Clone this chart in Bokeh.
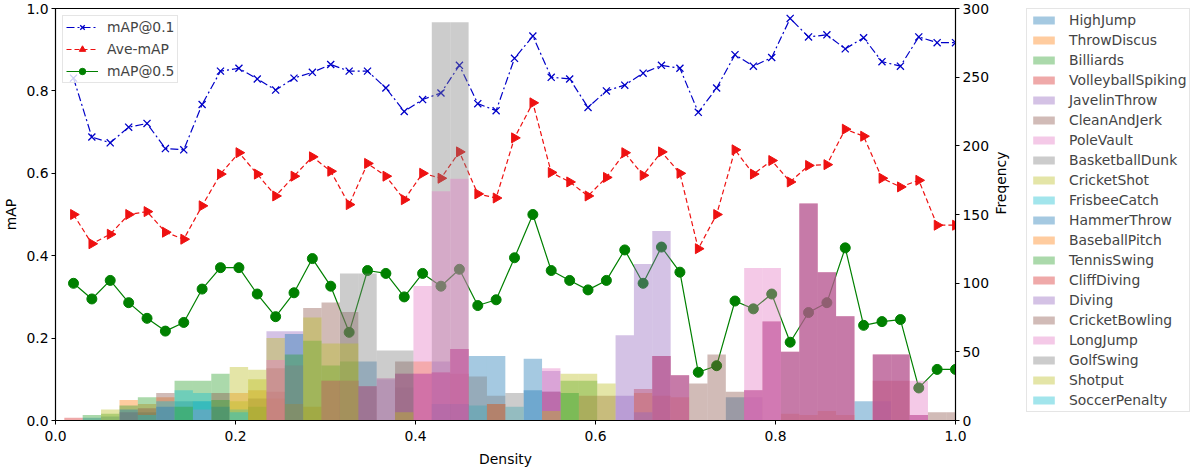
import numpy as np
from bokeh.plotting import figure
from bokeh.layouts import row
from bokeh.models import (Range1d, LinearAxis, Legend, LegendItem, FixedTicker,
                          PrintfTickFormatter, ColumnDataSource)
from bokeh.embed import file_html
from bokeh.resources import INLINE

# ---------------- data ----------------
density = [0.0200, 0.0404, 0.0608, 0.0813, 0.1017, 0.1221, 0.1425, 0.1629, 0.1833, 0.2038,
           0.2242, 0.2446, 0.2650, 0.2854, 0.3058, 0.3263, 0.3467, 0.3671, 0.3875, 0.4079,
           0.4283, 0.4488, 0.4692, 0.4896, 0.5100, 0.5304, 0.5508, 0.5713, 0.5917, 0.6121,
           0.6325, 0.6529, 0.6733, 0.6938, 0.7142, 0.7346, 0.7550, 0.7754, 0.7958, 0.8163,
           0.8367, 0.8571, 0.8775, 0.8979, 0.9183, 0.9388, 0.9592, 0.9796, 1.0000]

map_01 = [0.831, 0.688, 0.674, 0.712, 0.721, 0.660, 0.657, 0.767, 0.848, 0.855,
          0.829, 0.802, 0.831, 0.845, 0.864, 0.848, 0.848, 0.807, 0.750, 0.779,
          0.795, 0.862, 0.769, 0.752, 0.879, 0.933, 0.833, 0.829, 0.760, 0.800,
          0.814, 0.843, 0.862, 0.855, 0.748, 0.807, 0.888, 0.860, 0.881, 0.976,
          0.931, 0.936, 0.902, 0.929, 0.871, 0.860, 0.931, 0.917, 0.917]

ave_map = [0.500, 0.429, 0.452, 0.500, 0.507, 0.457, 0.440, 0.521, 0.598, 0.650,
           0.598, 0.545, 0.593, 0.640, 0.605, 0.524, 0.624, 0.593, 0.536, 0.600,
           0.588, 0.652, 0.550, 0.540, 0.686, 0.771, 0.602, 0.579, 0.545, 0.590,
           0.650, 0.595, 0.652, 0.600, 0.417, 0.500, 0.657, 0.598, 0.631, 0.579,
           0.619, 0.621, 0.707, 0.690, 0.588, 0.567, 0.583, 0.474, 0.474]

map_05 = [0.333, 0.295, 0.340, 0.286, 0.248, 0.217, 0.238, 0.319, 0.371, 0.371,
          0.307, 0.252, 0.310, 0.393, 0.326, 0.214, 0.364, 0.357, 0.300, 0.357,
          0.326, 0.367, 0.279, 0.293, 0.395, 0.500, 0.364, 0.340, 0.317, 0.340,
          0.414, 0.333, 0.421, 0.360, 0.117, 0.133, 0.290, 0.271, 0.307, 0.190,
          0.262, 0.286, 0.419, 0.231, 0.240, 0.245, 0.079, 0.124, 0.124]

classes = ["HighJump", "ThrowDiscus", "Billiards", "VolleyballSpiking", "JavelinThrow",
           "CleanAndJerk", "PoleVault", "BasketballDunk", "CricketShot", "FrisbeeCatch",
           "HammerThrow", "BaseballPitch", "TennisSwing", "CliffDiving", "Diving",
           "CricketBowling", "LongJump", "GolfSwing", "Shotput", "SoccerPenalty"]

# per-class frequency in each density bin (49 bins)
high_jump = [0, 2, 3, 0, 6, 0, 14, 14, 0, 0,
             0, 0, 0, 0, 0, 0, 43, 0, 0, 0,
             0, 0, 47, 47, 0, 45, 0, 0, 0, 0,
             0, 0, 0, 0, 0, 0, 17, 0, 0, 0,
             0, 0, 0, 14, 0, 0, 0, 0, 0]
throw_discus = [0, 0, 0, 15, 12, 17, 0, 0, 0, 20,
                22, 16, 0, 10, 0, 0, 0, 0, 0, 43,
                0, 0, 0, 0, 0, 0, 0, 0, 0, 0,
                0, 20, 18, 17, 0, 0, 0, 0, 0, 5,
                4, 7, 4, 0, 0, 0, 0, 0, 0]
billiards = [0, 4, 5, 11, 17, 0, 29, 29, 34, 0,
             10, 0, 0, 0, 0, 0, 0, 0, 0, 0,
             0, 0, 0, 0, 0, 0, 0, 29, 29, 0,
             0, 0, 0, 0, 0, 0, 0, 0, 0, 0,
             0, 0, 0, 0, 0, 0, 0, 0, 0]
volleyball_spiking = [2, 0, 0, 0, 0, 0, 0, 0, 0, 0,
                      0, 21, 0, 0, 0, 0, 0, 0, 0, 0,
                      0, 34, 0, 12, 0, 0, 0, 0, 0, 0,
                      0, 23, 0, 0, 0, 0, 0, 0, 0, 0,
                      0, 0, 0, 0, 29, 29, 0, 0, 0]
javelin_throw = [0, 0, 0, 0, 0, 0, 0, 0, 0, 0,
                 0, 65, 65, 0, 0, 0, 0, 30, 24, 0,
                 43, 0, 0, 0, 0, 0, 36, 0, 0, 0,
                 62, 114, 138, 0, 0, 0, 0, 17, 0, 0,
                 0, 0, 0, 0, 14, 0, 0, 0, 0]
clean_and_jerk = [0, 0, 0, 6, 9, 20, 0, 0, 20, 0,
                  16, 38, 0, 82, 86, 79, 0, 0, 43, 0,
                  0, 0, 0, 0, 0, 0, 0, 0, 18, 18,
                  0, 0, 0, 0, 0, 0, 0, 0, 0, 0,
                  0, 0, 0, 0, 0, 0, 0, 6, 6]
pole_vault = [0, 0, 0, 0, 0, 0, 0, 0, 0, 0,
              0, 0, 0, 0, 29, 29, 25, 0, 34, 34,
              35, 52, 0, 0, 0, 0, 21, 0, 0, 0,
              0, 0, 47, 33, 0, 0, 0, 22, 72, 50,
              158, 108, 76, 0, 48, 48, 4, 0, 0]
basketball_dunk = [0, 0, 0, 0, 0, 0, 0, 0, 0, 0,
                   0, 0, 0, 0, 0, 0, 0, 0, 0, 0,
                   290, 290, 0, 0, 0, 0, 0, 0, 0, 0,
                   0, 0, 0, 0, 0, 0, 0, 0, 0, 0,
                   0, 0, 0, 0, 0, 0, 0, 0, 0]
cricket_shot = [0, 0, 8, 0, 0, 0, 0, 0, 0, 39,
                37, 60, 0, 0, 0, 0, 0, 0, 0, 0,
                0, 0, 0, 0, 0, 0, 0, 34, 34, 27,
                0, 0, 0, 0, 0, 0, 0, 0, 0, 0,
                0, 0, 0, 0, 0, 0, 0, 0, 0]
frisbee_catch = [0, 0, 0, 0, 0, 14, 22, 20, 0, 8,
                 0, 0, 0, 0, 0, 0, 0, 0, 0, 0,
                 0, 0, 11, 0, 10, 0, 0, 0, 0, 0,
                 0, 0, 0, 0, 0, 0, 0, 0, 0, 0,
                 0, 0, 0, 0, 0, 0, 0, 0, 0]
hammer_throw = [0, 0, 0, 8, 0, 10, 0, 0, 10, 0,
                0, 0, 63, 0, 0, 0, 0, 0, 0, 0,
                12, 12, 0, 0, 0, 22, 21, 0, 0, 0,
                0, 0, 0, 0, 0, 0, 0, 0, 0, 0,
                0, 0, 0, 0, 0, 0, 0, 0, 0]
baseball_pitch = [0, 0, 0, 0, 0, 0, 0, 0, 0, 0,
                  0, 0, 12, 0, 0, 0, 0, 0, 0, 0,
                  0, 0, 0, 12, 0, 0, 0, 0, 0, 0,
                  0, 0, 0, 0, 0, 0, 0, 0, 0, 0,
                  0, 0, 0, 0, 0, 0, 0, 0, 0]
tennis_swing = [0, 0, 0, 0, 0, 0, 10, 0, 15, 0,
                0, 0, 48, 58, 40, 43, 0, 0, 0, 0,
                0, 0, 0, 0, 0, 0, 0, 20, 0, 0,
                0, 0, 0, 0, 0, 0, 0, 0, 0, 0,
                0, 0, 0, 0, 0, 0, 0, 0, 0]
cliff_diving = [0, 0, 0, 0, 0, 0, 0, 0, 0, 0,
                0, 0, 0, 0, 29, 29, 25, 0, 34, 34,
                35, 52, 0, 0, 0, 0, 21, 0, 0, 0,
                0, 0, 47, 33, 0, 0, 0, 22, 72, 50,
                158, 108, 76, 0, 48, 48, 4, 0, 0]
diving = [0, 0, 0, 0, 0, 0, 0, 0, 0, 0,
          0, 0, 0, 0, 29, 29, 25, 0, 34, 34,
          35, 52, 0, 0, 0, 0, 21, 0, 0, 0,
          18, 6, 47, 33, 0, 0, 0, 22, 72, 50,
          158, 108, 76, 0, 48, 48, 4, 0, 0]
cricket_bowling = [0, 0, 0, 0, 0, 0, 0, 0, 0, 0,
                   0, 0, 0, 0, 0, 0, 0, 0, 0, 0,
                   0, 0, 0, 0, 0, 0, 0, 0, 0, 0,
                   0, 0, 0, 0, 27, 48, 21, 0, 0, 0,
                   0, 0, 0, 0, 0, 0, 0, 0, 0]
long_jump = [0, 0, 0, 0, 0, 0, 0, 8, 0, 0,
             0, 44, 0, 0, 0, 0, 0, 31, 0, 98,
             167, 176, 0, 0, 0, 0, 38, 0, 0, 0,
             0, 0, 0, 0, 0, 0, 0, 111, 111, 0,
             0, 0, 0, 0, 0, 0, 29, 0, 0]
golf_swing = [0, 0, 0, 0, 0, 0, 0, 0, 0, 0,
              0, 0, 40, 0, 0, 107, 107, 51, 51, 0,
              0, 0, 32, 18, 20, 0, 0, 0, 0, 0,
              0, 0, 0, 0, 0, 0, 0, 0, 0, 0,
              0, 0, 0, 0, 0, 0, 0, 0, 0]
shotput = [0, 0, 0, 0, 0, 0, 0, 0, 0, 14,
           30, 0, 0, 75, 56, 56, 0, 0, 6, 0,
           0, 0, 0, 0, 0, 0, 7, 0, 0, 0,
           0, 0, 0, 0, 0, 0, 0, 0, 0, 0,
           0, 0, 0, 0, 0, 0, 0, 0, 0]
soccer_penalty = [0, 0, 0, 0, 4, 0, 0, 14, 0, 6,
                  0, 0, 0, 0, 0, 0, 0, 0, 0, 0,
                  0, 0, 0, 0, 0, 0, 0, 0, 0, 0,
                  0, 0, 0, 0, 0, 0, 0, 0, 0, 0,
                  0, 0, 0, 0, 0, 0, 0, 0, 0]

class_counts = [high_jump, throw_discus, billiards, volleyball_spiking, javelin_throw,
                clean_and_jerk, pole_vault, basketball_dunk, cricket_shot, frisbee_catch,
                hammer_throw, baseball_pitch, tennis_swing, cliff_diving, diving,
                cricket_bowling, long_jump, golf_swing, shotput, soccer_penalty]

tab10 = ["#1f77b4", "#ff7f0e", "#2ca02c", "#d62728", "#9467bd",
         "#8c564b", "#e377c2", "#7f7f7f", "#bcbd22", "#17becf"]

# ---------------- main figure ----------------
FONT = "DejaVu Sans"
FS = "13.9px"
FRAME_W, FRAME_H = 900, 412

p = figure(frame_width=FRAME_W, frame_height=FRAME_H,
           x_range=Range1d(0, 1), y_range=Range1d(0, 1),
           output_backend="svg", toolbar_location=None,
           min_border_left=45, min_border_top=8, min_border_right=0,
           min_border_bottom=5)
p.extra_y_ranges = {"freq": Range1d(0, 300)}
p.xgrid.visible = False
p.ygrid.visible = False
p.outline_line_color = "black"
p.outline_line_width = 1.2
p.outline_line_alpha = 1.0
p.background_fill_color = "white"
p.border_fill_color = "white"

p.xaxis.ticker = FixedTicker(ticks=[0, 0.2, 0.4, 0.6, 0.8, 1.0])
p.xaxis.formatter = PrintfTickFormatter(format="%.1f")
p.yaxis.ticker = FixedTicker(ticks=[0, 0.2, 0.4, 0.6, 0.8, 1.0])
p.yaxis.formatter = PrintfTickFormatter(format="%.1f")
p.xaxis.axis_label = "Density"
p.yaxis.axis_label = "mAP"

right_axis = LinearAxis(y_range_name="freq", axis_label="Freqency",
                        ticker=FixedTicker(ticks=[0, 50, 100, 150, 200, 250, 300]))
p.add_layout(right_axis, "right")

for ax in [p.xaxis[0], p.yaxis[0], right_axis]:
    ax.major_tick_in = 0
    ax.major_tick_out = 4
    ax.minor_tick_in = 0
    ax.minor_tick_out = 0
    ax.axis_line_color = "black"
    ax.major_tick_line_color = "black"
    ax.major_label_text_font = FONT
    ax.major_label_text_font_size = FS
    ax.major_label_text_color = "black"
    ax.axis_label_text_font = FONT
    ax.axis_label_text_font_size = FS
    ax.axis_label_text_font_style = "normal"
    ax.axis_label_text_color = "black"
    ax.major_label_standoff = 3
    ax.axis_label_standoff = 4

p.xaxis[0].major_label_standoff = 6
p.xaxis[0].axis_label_standoff = 7
right_axis.axis_label_standoff = 9
if "axis_label_orientation" in right_axis.properties():
    right_axis.axis_label_orientation = np.pi / 2

# ---------------- lines (drawn beneath histograms) ----------------
blue, red, green = "#0000c8", "#ee1111", "#008000"
l1 = p.line(density, map_01, line_color=blue, line_width=1.2, line_dash="8 3 2 3")
m1 = p.scatter(density, map_01, marker="x", size=10, line_color=blue, line_width=1.3)
l2 = p.line(density, ave_map, line_color=red, line_width=1.2, line_dash="5 3")
m2 = p.scatter(density, ave_map, marker="triangle", angle=-np.pi / 2, size=10,
               fill_color=red, line_color=red)
l3 = p.line(density, map_05, line_color=green, line_width=1.2)
m3 = p.scatter(density, map_05, marker="circle", size=10, fill_color=green, line_color=green)

leg1 = Legend(items=[LegendItem(label="mAP@0.1", renderers=[l1, m1]),
                     LegendItem(label="Ave-mAP", renderers=[l2, m2]),
                     LegendItem(label="mAP@0.5", renderers=[l3, m3])],
              location="top_left", margin=7, padding=3, spacing=6,
              glyph_width=32, glyph_height=16, label_height=16, label_standoff=9,
              label_text_font=FONT, label_text_font_size=FS,
              border_line_color="#cccccc", border_line_width=1,
              background_fill_alpha=0.8)

# ---------------- legend panel (separate figure to the right) ----------------
pl = figure(width=178, height=465, x_range=Range1d(0, 1), y_range=Range1d(0, 1),
            output_backend="svg", toolbar_location=None,
            x_axis_location=None, y_axis_location=None,
            min_border_left=6, min_border_right=0, min_border_top=0, min_border_bottom=0)
pl.xgrid.visible = False
pl.ygrid.visible = False
pl.outline_line_color = None
pl.background_fill_color = "white"
pl.border_fill_color = "white"

# ---------------- histograms ----------------
bw = float(np.mean(np.diff(density)))
centers = np.array(density)
bar_items = []
for i, (name, counts) in enumerate(zip(classes, class_counts)):
    src = ColumnDataSource(dict(left=centers - bw / 2, right=centers + bw / 2,
                                top=counts, bottom=[0] * len(counts)))
    kw = dict(left="left", right="right", top="top", bottom="bottom", source=src,
              fill_color=tab10[i % 10], fill_alpha=0.4, line_color=None)
    p.quad(y_range_name="freq", **kw)
    # zero-area copies in the legend panel: they only supply the legend swatches
    rl = pl.quad(**{**kw, "left": "right", "right": "right", "top": "bottom"})
    bar_items.append(LegendItem(label=name, renderers=[rl]))

p.add_layout(leg1)

leg2 = Legend(items=bar_items, location="top_left", padding=3, spacing=4,
              glyph_width=27, glyph_height=10, label_height=16, label_standoff=12,
              label_text_font=FONT, label_text_font_size=FS, margin=0,
              border_line_color="#cccccc", border_line_width=1,
              background_fill_alpha=1.0)
pl.add_layout(leg2)

layout = row(p, pl)
open("out.html", "w").write(file_html(layout, INLINE))
